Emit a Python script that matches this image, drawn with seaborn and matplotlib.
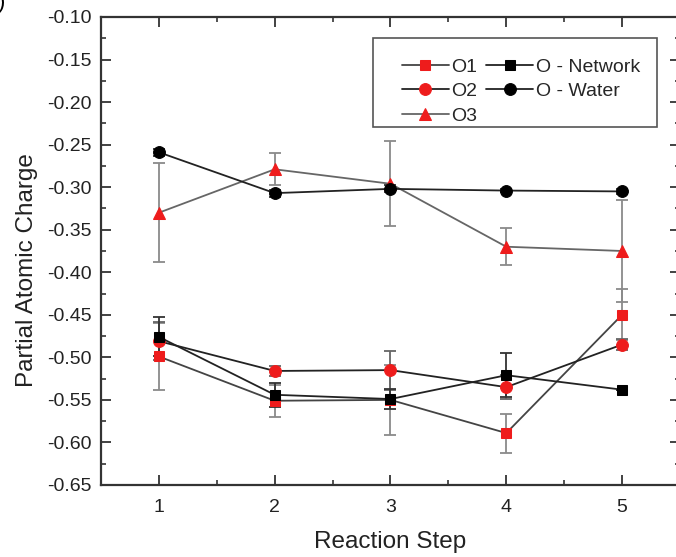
import numpy as np
import pandas as pd
import matplotlib
matplotlib.use("Agg")
import matplotlib.pyplot as plt
from matplotlib.ticker import MultipleLocator
from matplotlib.patches import Rectangle
import seaborn as sns

steps = [1, 2, 3, 4, 5]
o1 = [-0.499, -0.551, -0.550, -0.589, -0.450]
o1_err = [0.039, 0.019, 0.041, 0.023, 0.030]
o2 = [-0.481, -0.516, -0.515, -0.535, -0.485]
o2_err = [0.022, 0.006, 0.023, 0.014, 0.006]
o3 = [-0.330, -0.279, -0.296, -0.370, -0.375]
o3_err = [0.058, 0.019, 0.050, 0.022, 0.060]
o_net = [-0.476, -0.544, -0.549, -0.521, -0.538]
o_net_err = [0.023, 0.014, 0.012, 0.026, 0.0]
o_wat = [-0.259, -0.307, -0.302, -0.304, -0.305]
o_wat_err = [0.004, 0.004, 0.004, 0.002, 0.003]

sns.set_style("ticks")
plt.rcParams['font.family'] = ['Liberation Sans', 'DejaVu Sans']

W, H = 676, 557
fig = plt.figure(figsize=(6.76, 5.57), dpi=100)
ax = fig.add_axes([0.1494, 0.1293, 0.8565, 0.8402])

red = '#ee1c1c'
series = [
    ("O1", o1, o1_err, 's', red, '#444444', '#8a8a8a', 7),
    ("O2", o2, o2_err, 'o', red, '#222222', '#666666', 8.5),
    ("O3", o3, o3_err, '^', red, '#666666', '#8a8a8a', 8),
    ("O - Network", o_net, o_net_err, 's', 'black', '#222222', '#333333', 7),
    ("O - Water", o_wat, o_wat_err, 'o', 'black', '#222222', '#333333', 8.5),
]

for name, vals, errs, mk, mc, lc, ec, ms in series:
    ax.errorbar(steps, vals, yerr=errs, fmt='none', ecolor=ec, elinewidth=1.3,
                capsize=4, capthick=1.3, zorder=2)

for name, vals, errs, mk, mc, lc, ec, ms in series:
    df = pd.DataFrame({"step": steps, "charge": vals})
    sns.lineplot(data=df, x="step", y="charge", ax=ax, color=lc, linewidth=1.3,
                 marker=mk, markersize=ms, markerfacecolor=mc,
                 markeredgecolor=mc, label=name, zorder=3)

ax.set_xlim(0.5, 5.5)
ax.set_ylim(-0.65, -0.10)
ax.set_xticks(steps)
ax.xaxis.set_minor_locator(MultipleLocator(0.5))
ax.yaxis.set_major_locator(MultipleLocator(0.05))
ax.yaxis.set_minor_locator(MultipleLocator(0.025))
ax.set_yticklabels([f"{v:.2f}" for v in ax.get_yticks()])
ax.set_ylim(-0.65, -0.10)

ax.tick_params(which='both', direction='in', top=True, right=True,
               colors='#333333', labelcolor='#222222')
ax.tick_params(which='major', length=7, width=1.3, labelsize=14, pad=7)
ax.tick_params(axis='x', which='major', pad=10)
ax.tick_params(which='minor', length=3.5, width=1.2)
for sp in ax.spines.values():
    sp.set_linewidth(1.6)
    sp.set_color('#333333')

ax.set_xlabel("Reaction Step", fontsize=17.5, color='#222222', labelpad=11)
ax.set_ylabel("Partial Atomic Charge", fontsize=17.5, color='#222222')
ax.yaxis.set_label_coords(-0.108, 0.459)

leg = ax.legend(ncol=2, loc='upper left', bbox_to_anchor=(402 / W, 1 - 58 / H),
                bbox_transform=fig.transFigure, frameon=False,
                fontsize=14, handlelength=2.4,
                handletextpad=0.15, columnspacing=0.45, labelspacing=0.36,
                borderpad=0, borderaxespad=0)

frame = Rectangle((373 / W, 1 - 127 / H), (657 - 373) / W, (127 - 38) / H,
                  transform=fig.transFigure, fill=False, edgecolor='#555555',
                  linewidth=1.2, zorder=5)
fig.add_artist(frame)

fig.text(0.003, 0.995, ")", fontsize=16, ha='center', va='center', color='black')

fig.savefig("out.png", dpi=100)
